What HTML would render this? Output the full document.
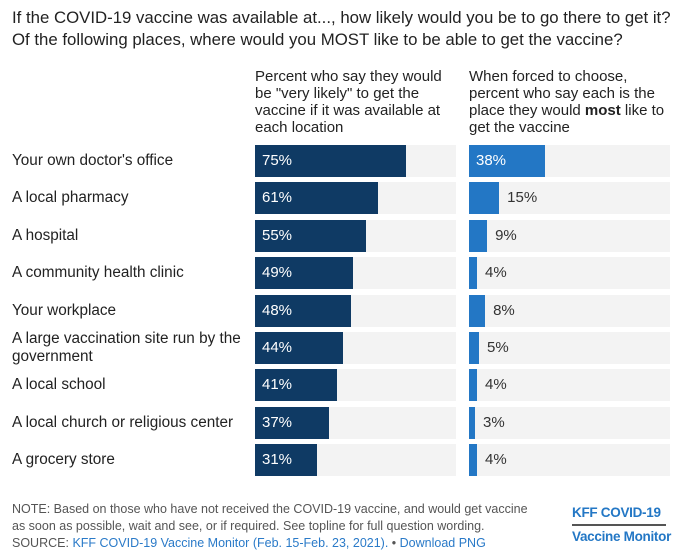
<!DOCTYPE html>
<html><head><meta charset="utf-8"><style>
body{margin:0;width:680px;height:550px;background:#fff;font-family:"Liberation Sans",Arial,sans-serif;position:relative;overflow:hidden;color:#222}
.abs{position:absolute}
#title{left:12px;top:7px;font-size:16.8px;line-height:22px;color:#222;white-space:nowrap}
.hdr{top:68px;font-size:15px;line-height:17px;color:#222;white-space:nowrap}
.lbl{left:12px;font-size:15.3px;line-height:18px;color:#222;width:250px;white-space:nowrap}
.val{font-size:15px}
#note{left:12px;top:501px;font-size:12.5px;line-height:17px;color:#555;white-space:nowrap}
#note a{color:#2a7ac8;text-decoration:none}
#logo{left:572px;top:503px;font-size:13.5px;font-weight:bold;color:#2377c5;line-height:20px;letter-spacing:-0.3px}
</style></head><body>
<div id="title" class="abs">If the COVID-19 vaccine was available at..., how likely would you be to go there to get it?<br>Of the following places, where would you MOST like to be able to get the vaccine?</div>
<div class="abs hdr" style="left:255px">Percent who say they would<br>be "very likely" to get the<br>vaccine if it was available at<br>each location</div>
<div class="abs hdr" style="left:469px">When forced to choose,<br>percent who say each is the<br>place they would <b>most</b> like to<br>get the vaccine</div>
<div id="rows"></div>
<div id="note" class="abs">NOTE: Based on those who have not received the COVID-19 vaccine, and would get vaccine<br>as soon as possible, wait and see, or if required. See topline for full question wording.<br>SOURCE: <a>KFF COVID-19 Vaccine Monitor (Feb. 15-Feb. 23, 2021).</a> • <a>Download PNG</a></div>
<div id="logo" class="abs">KFF COVID-19<div style="border-top:2px solid #555;width:94px;margin:1px 0 1px"></div>Vaccine Monitor</div>
<script>
const categories=["Your own doctor's office","A local pharmacy","A hospital","A community health clinic","Your workplace","A large vaccination site run by the government","A local school","A local church or religious center","A grocery store"];
const veryLikely=[75,61,55,49,48,44,41,37,31];
const mostLike=[38,15,9,4,8,5,4,3,4];
const root=document.getElementById('rows');
const top0=145,pitch=37.4,bh=32,scale=2.01;
function xw(v){return v*scale;}
function mk(cls,css,txt){const d=document.createElement('div');d.className='abs '+cls;d.style.cssText=css;if(txt!==undefined)d.innerHTML=txt;root.appendChild(d);return d;}
categories.forEach((c,i)=>{
 const y=top0+i*pitch;
 const two=c.length>34;
 const l=mk('lbl','top:'+(two?y-2:y+7)+'px',two?"A large vaccination site run by the<br>government":c);
 
 
 [[255,veryLikely[i],'#0f3a64',true],[469,mostLike[i],'#2377c5',false]].forEach(([x0,v,col,left])=>{
  const bg=mk('', 'left:'+x0+'px;top:'+y+'px;width:201px;height:'+bh+'px;background:#f3f3f3');
  
  
  const b=mk('', 'left:'+x0+'px;top:'+y+'px;width:'+xw(v)+'px;height:'+bh+'px;background:'+col);
  
  
  const inside=xw(v)>50;
  const t=mk('val','left:'+(inside?x0+7:x0+xw(v)+8)+'px;top:'+(y+7)+'px;color:'+(inside?'#fff':'#333'),v+'%');
  
  
 });
});
</script>
</body></html>
